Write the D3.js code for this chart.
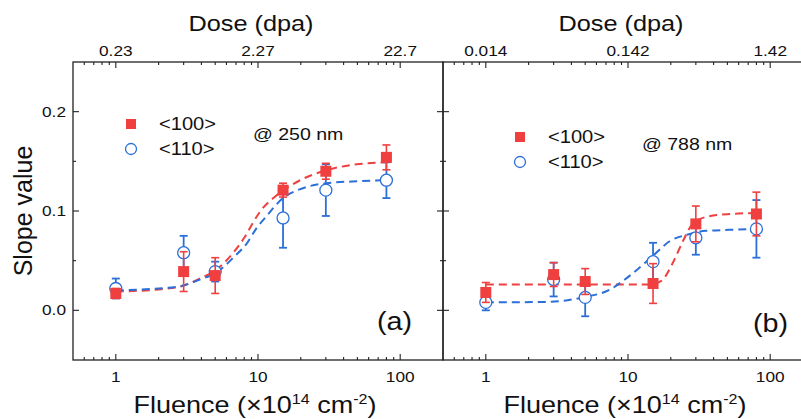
<!DOCTYPE html>
<html>
<head>
<meta charset="utf-8">
<script src="https://cdn.jsdelivr.net/npm/d3@7"></script>
<style>
  body { margin: 0; background: #fff; }
  text { font-family: "Liberation Sans", Arial, sans-serif; fill: #111; }
</style>
</head>
<body>
<svg id="chart" width="801" height="419"></svg>
<script>
// Data
const fluence = [1, 3, 5, 15, 30, 80];

// panel (a) @ 250 nm
const a100 = [0.017, 0.039, 0.035, 0.121, 0.140, 0.154];
const a100Err = [0.005, 0.020, 0.018, 0.007, 0.008, 0.0125];
const a110 = [0.022, 0.058, 0.039, 0.093, 0.121, 0.131];
const a110Err = [0.010, 0.017, 0.010, 0.030, 0.026, 0.018];

// panel (b) @ 788 nm
const b100 = [0.018, 0.036, 0.029, 0.027, 0.087, 0.097];
const b100Err = [0.010, 0.012, 0.013, 0.020, 0.018, 0.022];
const b110 = [0.008, 0.031, 0.013, 0.049, 0.073, 0.082];
const b110Err = [0.008, 0.017, 0.019, 0.019, 0.017, 0.029];

// fitted (dashed) curves, [fluence, slope]
const aFit100 = [[1, 0.019], [2, 0.021], [3, 0.025], [3.9, 0.032], [5.1, 0.041], [6.7, 0.058], [8, 0.073],
  [9.2, 0.088], [10.3, 0.099], [13.6, 0.116], [19.8, 0.131], [28.6, 0.140], [49.5, 0.147], [80, 0.149]];
const aFit110 = [[1, 0.020], [2, 0.022], [2.8, 0.024], [3.9, 0.031], [5.1, 0.038], [6.7, 0.053], [8.4, 0.068],
  [9.8, 0.083], [11.5, 0.095], [15, 0.113], [19.8, 0.122], [30.5, 0.128], [52, 0.130], [80, 0.131]];
const bFit100 = [[1, 0.026], [13.6, 0.026], [15.5, 0.027], [17.6, 0.031], [20.7, 0.048], [24.4, 0.070],
  [28.1, 0.086], [35.4, 0.094], [52, 0.097], [80, 0.098]];
const bFit110 = [[1, 0.008], [2.8, 0.0085], [4.8, 0.013], [7.5, 0.021], [9.5, 0.031], [15, 0.055],
  [19.8, 0.070], [25.8, 0.076], [35.4, 0.080], [52, 0.081], [80, 0.082]];

// axis ticks
const fluenceTicks = [1, 10, 100];
const fluenceLabels = ["1", "10", "100"];
const minorFluence = [0.6, 0.7, 0.8, 0.9, 2, 3, 4, 5, 6, 7, 8, 9, 20, 30, 40, 50, 60, 70, 80, 90];
const doseLabelsA = ["0.23", "2.27", "22.7"];
const doseLabelsB = ["0.014", "0.142", "1.42"];
const yTicks = [0.0, 0.1, 0.2];
const yMinor = [0.05, 0.15];

const RED = "#ef3f3f";
const BLUE = "#2b6fd8";
const SX = 1.15; // the figure's text is a bit stretched sideways

const svg = d3.select("#chart");
const plotTop = 62, plotBottom = 360, panelW = 370;

const y = d3.scaleLinear().domain([-0.05, 0.25]).range([plotBottom, plotTop]);

const panels = [
  { x0: 73, s100: a100, e100: a100Err, s110: a110, e110: a110Err, f100: aFit100, f110: aFit110,
    dose: doseLabelsA, tag: "(a)", tagX: 377, tagY: 330, wl: "@ 250 nm", wlX: 253, wlY: 134,
    legX: 131, legY: 124, yLabels: true },
  { x0: 443, s100: b100, e100: b100Err, s110: b110, e110: b110Err, f100: bFit100, f110: bFit110,
    dose: doseLabelsB, tag: "(b)", tagX: 753, tagY: 332, wl: "@ 788 nm", wlX: 642, wlY: 144,
    legX: 520, legY: 137, yLabels: false }
];

function addText(g, x, yy, str, size, anchor) {
  return g.append("text")
    .attr("transform", `translate(${x},${yy}) scale(${SX},1)`)
    .attr("text-anchor", anchor || "start")
    .style("font-size", size + "px")
    .text(str);
}

panels.forEach(p => {
  const g = svg.append("g");
  const x = d3.scaleLog().domain([0.5, 200]).range([p.x0, p.x0 + panelW]);
  const x1 = p.x0 + panelW;

  // frame
  g.append("rect")
    .attr("x", p.x0).attr("y", plotTop)
    .attr("width", panelW).attr("height", plotBottom - plotTop)
    .attr("fill", "none").attr("stroke", "#222").attr("stroke-width", 1.3);

  // x ticks (bottom + top, inward)
  fluenceTicks.concat(minorFluence).forEach(v => {
    const len = fluenceTicks.includes(v) ? 6 : 3;
    g.append("line").attr("x1", x(v)).attr("x2", x(v)).attr("y1", plotBottom).attr("y2", plotBottom - len)
      .attr("stroke", "#222").attr("stroke-width", 1.1);
    g.append("line").attr("x1", x(v)).attr("x2", x(v)).attr("y1", plotTop).attr("y2", plotTop + len)
      .attr("stroke", "#222").attr("stroke-width", 1.1);
  });

  // y ticks (left + right, inward)
  yTicks.concat(yMinor).forEach(v => {
    const len = yTicks.includes(v) ? 6 : 3;
    g.append("line").attr("x1", p.x0).attr("x2", p.x0 + len).attr("y1", y(v)).attr("y2", y(v))
      .attr("stroke", "#222").attr("stroke-width", 1.1);
    g.append("line").attr("x1", x1).attr("x2", x1 - len).attr("y1", y(v)).attr("y2", y(v))
      .attr("stroke", "#222").attr("stroke-width", 1.1);
  });

  // tick labels
  fluenceTicks.forEach((v, i) => {
    addText(g, x(v), 382, fluenceLabels[i], 15, "middle");
    addText(g, x(v), 56, p.dose[i], 15, "middle");
  });
  if (p.yLabels) {
    yTicks.forEach(v => addText(g, p.x0 - 7, y(v) + 5, v.toFixed(1), 15, "end"));
  }

  // axis titles
  addText(g, x(10) - 7, 31, "Dose (dpa)", 22, "middle");
  const ft = g.append("text")
    .attr("transform", `translate(${x(10) - 3},413) scale(${SX},1)`)
    .attr("text-anchor", "middle")
    .style("font-size", "23.5px");
  ft.append("tspan").text("Fluence (\u00d710");
  ft.append("tspan").attr("dy", -9).style("font-size", "14px").text("14");
  ft.append("tspan").attr("dy", 9).text(" cm");
  ft.append("tspan").attr("dy", -9).style("font-size", "14px").text("-2");
  ft.append("tspan").attr("dy", 9).text(")");

  // fitted curves
  const line = d3.line()
    .x(d => x(d[0]))
    .y(d => y(d[1]))
    .curve(d3.curveMonotoneX);
  g.append("path").datum(p.f100).attr("d", line)
    .attr("fill", "none").attr("stroke", RED).attr("stroke-width", 2)
    .attr("stroke-dasharray", "8,5");
  g.append("path").datum(p.f110).attr("d", line)
    .attr("fill", "none").attr("stroke", BLUE).attr("stroke-width", 2)
    .attr("stroke-dasharray", "8,5");

  // error bars + markers
  function errBars(vals, errs, color, w) {
    fluence.forEach((f, i) => {
      const cx = x(f), lo = y(vals[i] - errs[i]), hi = y(vals[i] + errs[i]);
      g.append("line").attr("x1", cx).attr("x2", cx).attr("y1", lo).attr("y2", hi)
        .attr("stroke", color).attr("stroke-width", w);
      [lo, hi].forEach(yy => g.append("line")
        .attr("x1", cx - 4).attr("x2", cx + 4).attr("y1", yy).attr("y2", yy)
        .attr("stroke", color).attr("stroke-width", w));
    });
  }

  errBars(p.s110, p.e110, BLUE, 1.8);
  g.selectAll(null).data(fluence).enter().append("circle")
    .attr("cx", d => x(d)).attr("cy", (d, i) => y(p.s110[i])).attr("r", 6)
    .attr("fill", "#fff").attr("stroke", BLUE).attr("stroke-width", 1.3);
  errBars(p.s100, p.e100, RED, 1.6);
  g.selectAll(null).data(fluence).enter().append("rect")
    .attr("x", d => x(d) - 5.5).attr("y", (d, i) => y(p.s100[i]) - 5.5)
    .attr("width", 11).attr("height", 11).attr("fill", RED);

  // legend
  g.append("rect").attr("x", p.legX - 5).attr("y", p.legY - 5).attr("width", 10).attr("height", 10).attr("fill", RED);
  g.append("circle").attr("cx", p.legX).attr("cy", p.legY + 25).attr("r", 5.5)
    .attr("fill", "#fff").attr("stroke", BLUE).attr("stroke-width", 1.3);
  addText(g, p.legX + 28, p.legY + 6, "<100>", 17.5);
  addText(g, p.legX + 28, p.legY + 31, "<110>", 17.5);
  addText(g, p.wlX, p.wlY + 6, p.wl, 17);

  // panel tag
  addText(g, p.tagX, p.tagY, p.tag, 25);
});

// y axis title
svg.append("text")
  .attr("transform", "translate(32,211) rotate(-90)")
  .attr("text-anchor", "middle")
  .style("font-size", "25px")
  .text("Slope value");
</script>
</body>
</html>
